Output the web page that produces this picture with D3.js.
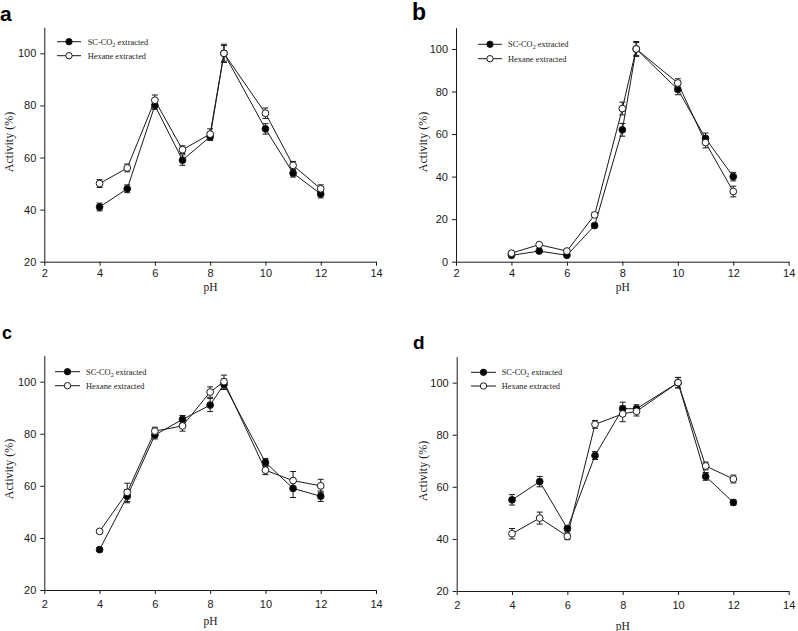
<!DOCTYPE html>
<html><head><meta charset="utf-8">
<script src="https://cdn.jsdelivr.net/npm/d3@7"></script>
<style>body{margin:0;background:#fff}svg{display:block}</style>
</head><body>
<svg id="c" width="798" height="631"></svg>
<script>
const pH = [4, 5, 6, 7, 8, 8.5, 10, 11, 12];
const xTicks = [2, 4, 6, 8, 10, 12, 14];
const seriesNames = ["SC-CO2 extracted", "Hexane extracted"];

const aSC  = [41, 48, 80, 59, 68, 100, 71, 54, 46];
const aSCe = [1.5, 1.5, 1.5, 2, 1.5, 3, 2, 1.5, 1.5];
const aHx  = [50, 56, 82, 63, 69, 100, 77, 57, 48];
const aHxe = [1.5, 1.5, 2, 1.5, 2, 3.5, 2, 1.5, 1.5];

const bSC  = [3, 5, 3, 17, 62, 100, 81, 58, 40];
const bSCe = [0.5, 0.5, 0.5, 1, 3, 3, 2.5, 2.5, 2];
const bHx  = [4, 8, 5, 22, 72, 100, 84, 56, 33];
const bHxe = [0.5, 0.5, 0.5, 1, 3, 3.5, 2, 2.5, 2.5];

const cSC  = [35.5, 56, 79.5, 85.5, 91, 99, 69, 59, 56];
const cSCe = [0.7, 2.5, 1.5, 1.5, 2.5, 2, 1.5, 3.5, 2];
const cHx  = [42.5, 57.5, 81, 83, 96, 100, 66, 62, 60];
const cHxe = [0.7, 3.5, 1.5, 2, 2, 2.5, 1.7, 3.5, 2.5];

const dSC  = [55, 62, 44, 72, 90, 90, 100, 64, 54];
const dSCe = [2, 2, 1, 1.5, 2.5, 1.5, 2, 1.5, 1];
const dHx  = [42, 48, 41, 84, 88, 89, 100, 68, 63];
const dHxe = [2, 2.3, 1.3, 1.5, 3, 1.8, 2, 1.5, 1.5];

const yTicksA = [20, 40, 60, 80, 100];
const yTicksB = [0, 20, 40, 60, 80, 100];

const panels = [
  {label:"a", fs:21, sc:aSC, sce:aSCe, hx:aHx, hxe:aHxe, yDom:[20,110], yTicks:yTicksA, tb:15.5,
   x0:44.3, x1:376, y0:261.7, y1:27.3, lx:[0,21], leg:[57,81,41.7,55.7,87.7], ylab:[9,142], xlab:[210.5,291]},
  {label:"b", fs:23, sc:bSC, sce:bSCe, hx:bHx, hxe:bHxe, yDom:[0,110], yTicks:yTicksB, tb:15.5,
   x0:456, x1:788.7, y0:261.7, y1:27.7, lx:[412,20], leg:[478,502,44.3,58.7,508], ylab:[423,142], xlab:[622.7,291]},
  {label:"c", fs:18, sc:cSC, sce:cSCe, hx:cHx, hxe:cHxe, yDom:[20,110], yTicks:yTicksA, tb:17.5,
   x0:44.3, x1:376, y0:590, y1:355.6, lx:[2,339], leg:[55,80,371.7,385.7,86], ylab:[9,469], xlab:[210.5,625]},
  {label:"d", fs:19, sc:dSC, sce:dSCe, hx:dHx, hxe:dHxe, yDom:[20,110], yTicks:yTicksA, tb:17.5,
   x0:456.7, x1:788.7, y0:591, y1:356.6, lx:[413,349], leg:[471,496,372.3,386,501.7], ylab:[423,471], xlab:[622.7,629.5]}
];

const svg = d3.select("#c");
const ink = "#1a1a1a";

panels.forEach(p => {
  const x = d3.scaleLinear().domain([2,14]).range([p.x0, p.x1]);
  const y = d3.scaleLinear().domain(p.yDom).range([p.y0, p.y1]);
  const g = svg.append("g");

  // axes
  const xa = g.append("g").attr("transform", `translate(0,${p.y0})`)
    .call(d3.axisBottom(x).tickValues(xTicks).tickSize(4).tickSizeOuter(0));
  const ya = g.append("g").attr("transform", `translate(${p.x0},0)`)
    .call(d3.axisLeft(y).tickValues(p.yTicks).tickSize(4).tickSizeOuter(0));
  [xa, ya].forEach(a => {
    a.select(".domain").attr("stroke", ink).attr("stroke-width", 1);
    a.selectAll(".tick line").attr("stroke", ink);
    a.selectAll(".tick text").attr("fill", ink)
      .attr("font-family", "'Liberation Sans', Arial, sans-serif").attr("font-size", 11);
  });
  xa.selectAll(".tick text").attr("y", p.tb).attr("dy", null);
  ya.selectAll(".tick text").attr("dx", "-1");

  // titles
  g.append("text").attr("x", p.xlab[0]).attr("y", p.xlab[1]).attr("text-anchor","middle")
    .attr("font-family","'Liberation Serif', 'Times New Roman', serif").attr("font-size",11.5)
    .attr("fill", ink).text("pH");
  g.append("text").attr("transform", `translate(${p.ylab[0]},${p.ylab[1]}) rotate(-90)`)
    .attr("text-anchor","middle").attr("dy","0.35em")
    .attr("font-family","'Liberation Serif', 'Times New Roman', serif").attr("font-size",12)
    .attr("fill", ink).text("Activity (%)");
  g.append("text").attr("x", p.lx[0]).attr("y", p.lx[1])
    .attr("font-family","'Liberation Sans', Arial, sans-serif").attr("font-weight","bold")
    .attr("font-size",p.fs).attr("fill","#000").text(p.label);

  const line = d3.line().x((d,i) => x(pH[i])).y(d => y(d));
  const series = [
    {v:p.sc, e:p.sce, fill:"#000"},
    {v:p.hx, e:p.hxe, fill:"#fff"}
  ];
  series.forEach(s => {
    g.append("path").datum(s.v).attr("d", line).attr("fill","none")
      .attr("stroke", ink).attr("stroke-width", 1);
  });
  series.forEach(s => {
    const eb = g.append("g").attr("stroke", ink).attr("stroke-width", 1);
    s.v.forEach((v,i) => {
      const cx = x(pH[i]), top = y(v + s.e[i]), bot = y(v - s.e[i]);
      eb.append("line").attr("x1",cx).attr("x2",cx).attr("y1",top).attr("y2",bot);
      eb.append("line").attr("x1",cx-3).attr("x2",cx+3).attr("y1",top).attr("y2",top);
      eb.append("line").attr("x1",cx-3).attr("x2",cx+3).attr("y1",bot).attr("y2",bot);
    });
  });
  series.forEach(s => {
    g.selectAll(null).data(s.v).enter().append("circle")
      .attr("cx",(d,i)=>x(pH[i])).attr("cy",d=>y(d)).attr("r",3.4)
      .attr("fill", s.fill).attr("stroke", ink).attr("stroke-width",1);
  });

  // legend
  const [lx0, lx1, ly1, ly2, tx] = p.leg;
  const lg = g.append("g");
  [[ly1,"#000"],[ly2,"#fff"]].forEach(([ly,f]) => {
    lg.append("line").attr("x1",lx0).attr("x2",lx1).attr("y1",ly).attr("y2",ly)
      .attr("stroke", ink).attr("stroke-width",1);
    lg.append("circle").attr("cx",(lx0+lx1)/2).attr("cy",ly).attr("r",3.2)
      .attr("fill",f).attr("stroke",ink);
  });
  const t1 = lg.append("text").attr("x",tx).attr("y",ly1).attr("dy","0.35em")
    .attr("font-family","'Liberation Serif', 'Times New Roman', serif").attr("font-size",8.4).attr("fill",ink);
  t1.append("tspan").text("SC-CO");
  t1.append("tspan").attr("font-size",6).attr("dy","2").text("2");
  t1.append("tspan").attr("dy","-2").text(" extracted");
  lg.append("text").attr("x",tx).attr("y",ly2).attr("dy","0.35em")
    .attr("font-family","'Liberation Serif', 'Times New Roman', serif").attr("font-size",8.4).attr("fill",ink)
    .text(seriesNames[1]);
});
</script>
</body></html>
